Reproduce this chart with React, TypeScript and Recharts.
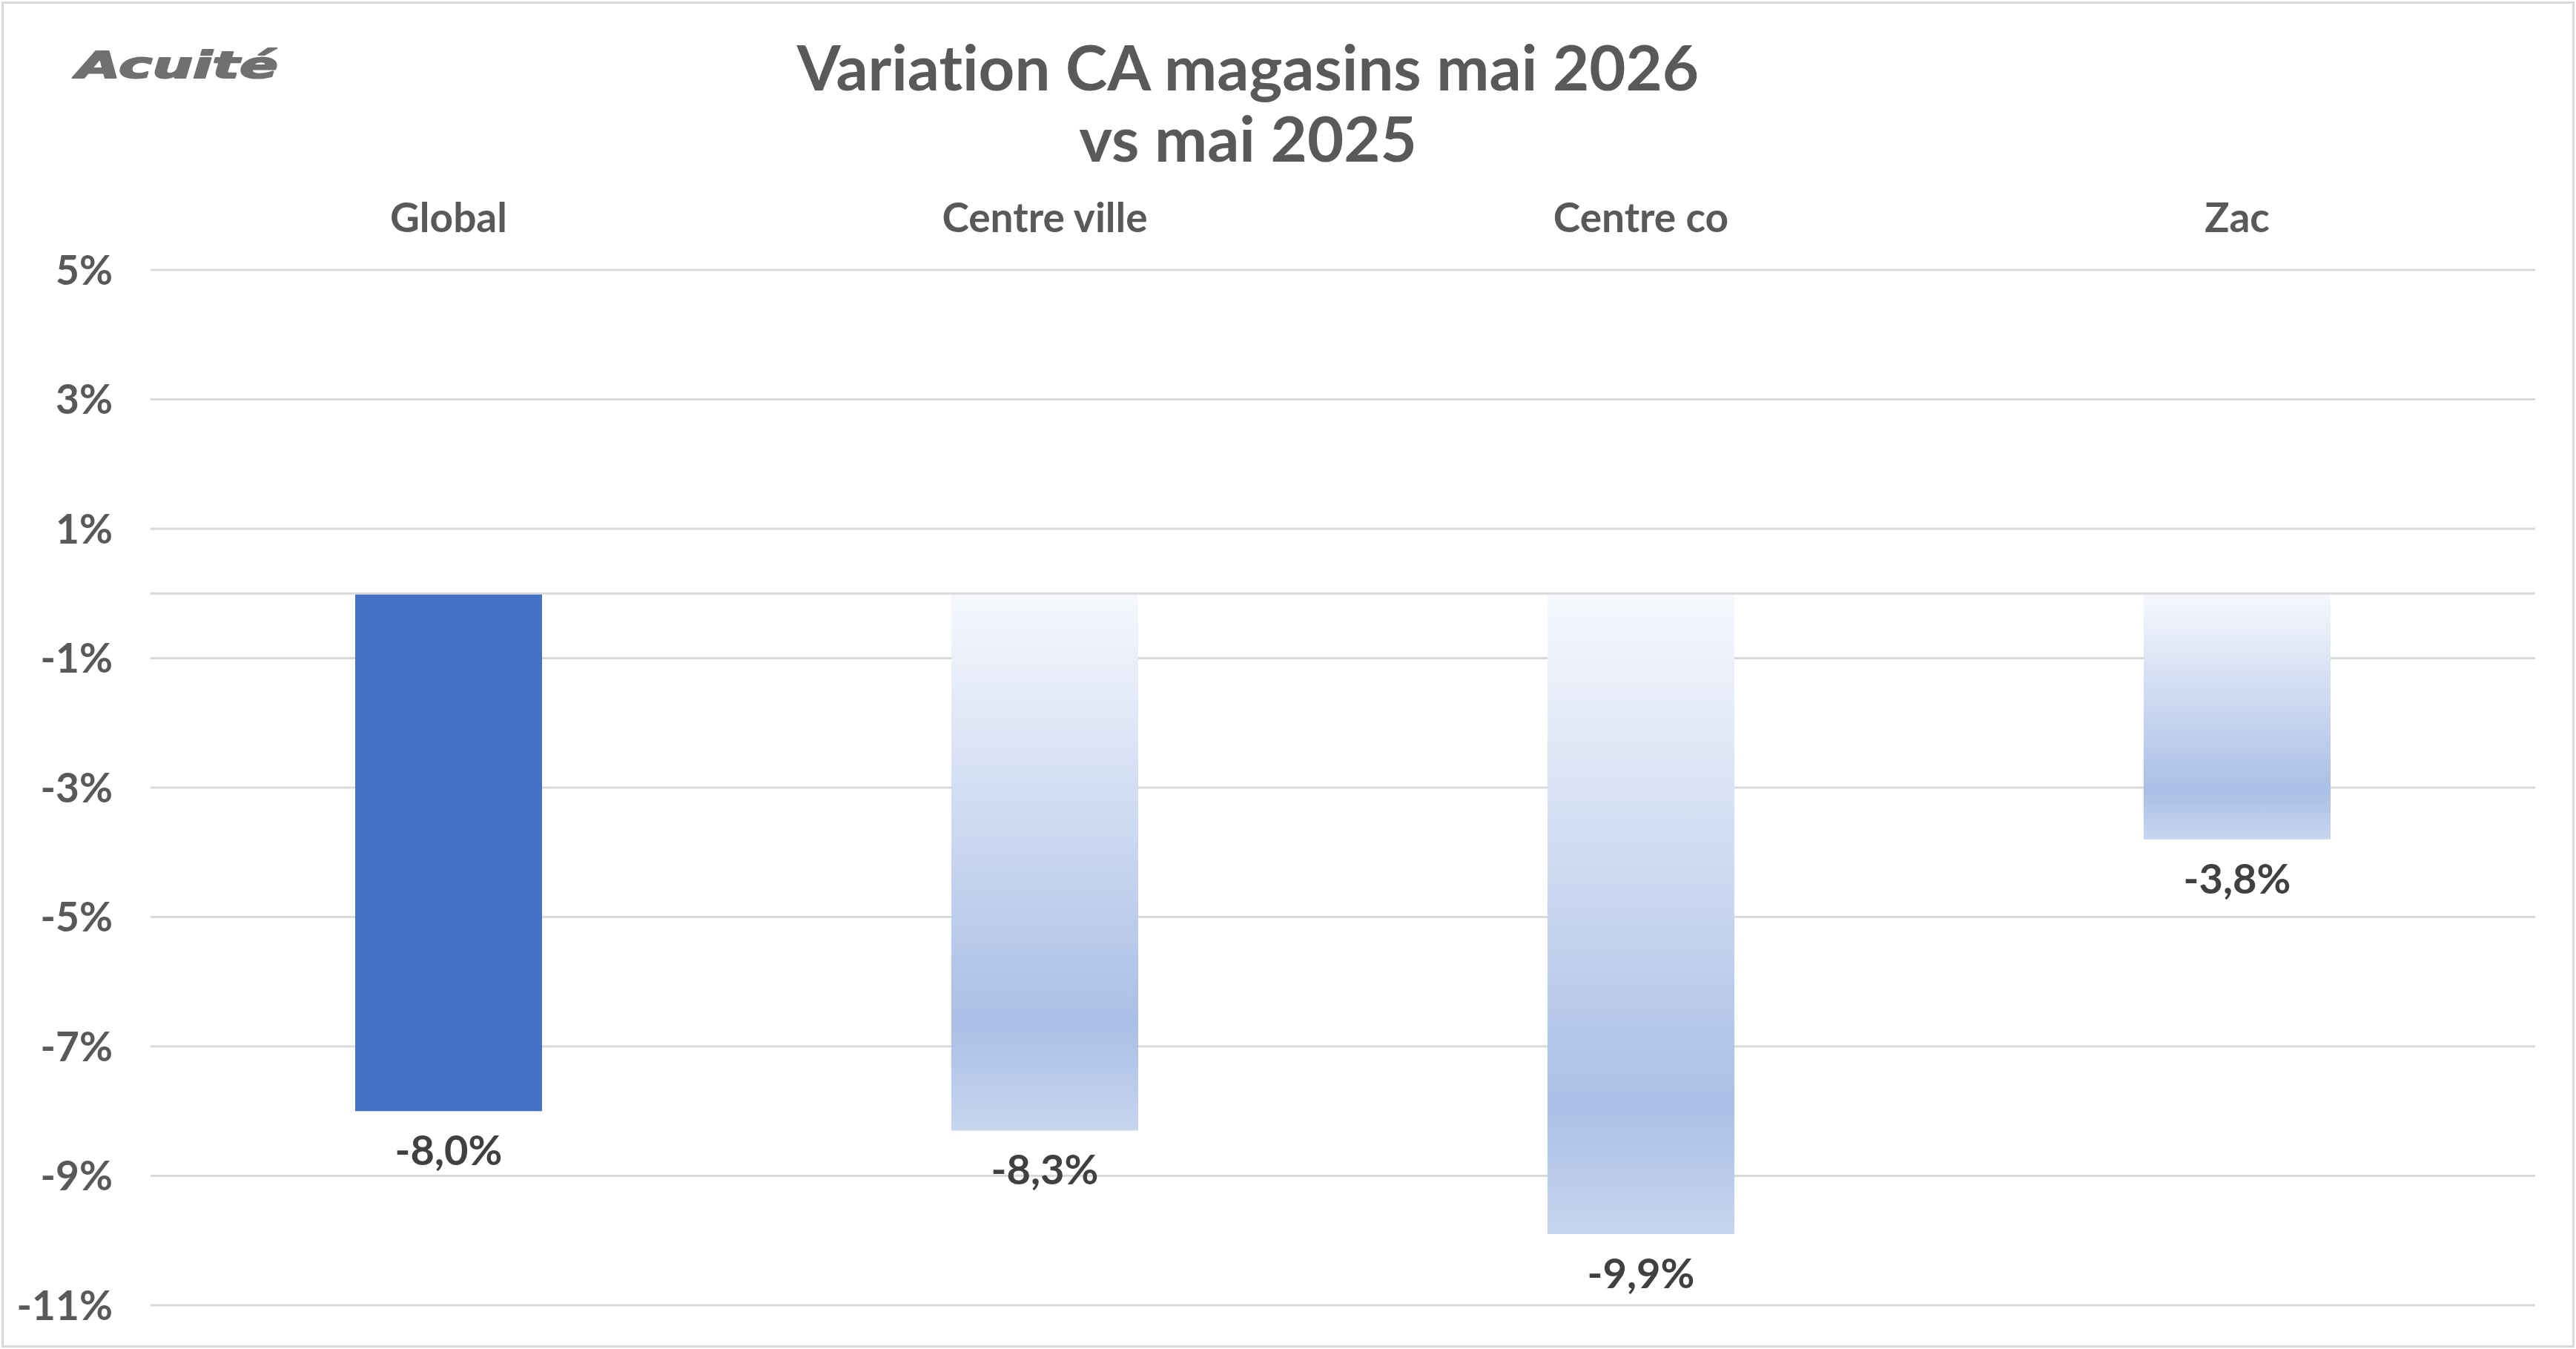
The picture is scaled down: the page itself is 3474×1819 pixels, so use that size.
import React from 'react';
import { BarChart, Bar, XAxis, YAxis, CartesianGrid, Cell, LabelList, ReferenceLine } from 'recharts';

const categories = ['Global', 'Centre ville', 'Centre co', 'Zac'];
const variations = [-8.0, -8.3, -9.9, -3.8];
const yTicks = [5, 3, 1, -1, -3, -5, -7, -9, -11];
const titleLines = ['Variation CA magasins mai 2026', 'vs mai 2025'];
const logoText = 'Acuité';

const data = categories.map((name, i) => ({ name, value: variations[i] }));

const W = 3474;
const H = 1819;
const FONT = 'Lato, "Open Sans", sans-serif';
const noLig: React.CSSProperties = { fontVariantLigatures: 'none', fontFeatureSettings: '"liga" 0, "clig" 0' };

const fmtLabel = (v: number) => `${v.toFixed(1).replace('.', ',')}%`;

const XTick = (props: any) => {
  const { x, y, payload } = props;
  return (
    <text x={x} y={y} textAnchor="middle" fill="#595959" fontFamily={FONT} fontWeight={700} fontSize={55} style={noLig}>
      {payload.value}
    </text>
  );
};

const YTick = (props: any) => {
  const { x, y, payload } = props;
  return (
    <text x={x} y={y} dy="0.36em" textAnchor="end" fill="#595959" fontFamily={FONT} fontWeight={700} fontSize={55}>
      {`${payload.value}%`}
    </text>
  );
};

const BarLabel = (props: any) => {
  const { x, y, width, height, value } = props;
  const bottom = Math.max(Number(y), Number(y) + Number(height));
  return (
    <text x={Number(x) + Number(width) / 2} y={bottom + 73} textAnchor="middle" fill="#404040" fontFamily={FONT} fontWeight={700} fontSize={56}>
      {fmtLabel(Number(value))}
    </text>
  );
};

export default function App() {
  return (
    <div style={{ position: 'relative', width: W, height: H, background: '#ffffff', overflow: 'hidden' }}>
      <style>{'body{margin:0;}'}</style>
      <div
        style={{
          position: 'absolute',
          left: 2,
          top: 2,
          width: W - 4,
          height: H - 4,
          border: '3px solid #D9D9D9',
          boxSizing: 'border-box',
        }}
      />
      <div style={{ position: 'absolute', left: 0, top: 0 }}>
        <BarChart width={W} height={H} data={data} margin={{ top: 264, right: 55, bottom: 59, left: 3 }}>
          <defs>
            <linearGradient id="lightGrad" x1="0" y1="0" x2="0" y2="1">
              <stop offset="0" stopColor="#F6F8FD" />
              <stop offset="0.8" stopColor="#AABFE6" />
              <stop offset="1" stopColor="#C7D5EF" />
            </linearGradient>
          </defs>
          <CartesianGrid vertical={false} stroke="#D9D9D9" strokeWidth={3} />
          <XAxis
            dataKey="name"
            orientation="top"
            axisLine={false}
            tickLine={false}
            tickSize={0}
            tickMargin={51}
            height={100}
            interval={0}
            tick={<XTick />}
          />
          <YAxis
            type="number"
            domain={[-11, 5]}
            ticks={yTicks}
            interval={0}
            axisLine={false}
            tickLine={false}
            tickSize={0}
            tickMargin={51}
            width={200}
            tick={<YTick />}
          />
          <ReferenceLine y={0} stroke="#D9D9D9" strokeWidth={3} />
          <Bar dataKey="value" barSize={252} isAnimationActive={false}>
            {data.map((d, i) => (
              <Cell key={d.name} fill={i === 0 ? '#4472C4' : 'url(#lightGrad)'} />
            ))}
            <LabelList dataKey="value" content={<BarLabel />} />
          </Bar>
        </BarChart>
      </div>
      <svg width={W} height={H} style={{ position: 'absolute', left: 0, top: 0, pointerEvents: 'none' }}>
        <text
          x={103}
          y={105}
          textLength={272}
          lengthAdjust="spacingAndGlyphs"
          fill="#707070"
          stroke="#707070"
          strokeWidth={2}
          strokeLinejoin="round"
          fontFamily='"DejaVu Sans", sans-serif'
          fontWeight={700}
          fontStyle="italic"
          fontSize={50}
        >
          {logoText}
        </text>
        {titleLines.map((line, i) => (
          <text
            key={line}
            x={1683}
            y={122 + i * 96}
            textAnchor="middle"
            fill="#595959"
            fontFamily={FONT}
            fontWeight={700}
            fontSize={85}
            style={noLig}
          >
            {line}
          </text>
        ))}
      </svg>
    </div>
  );
}
